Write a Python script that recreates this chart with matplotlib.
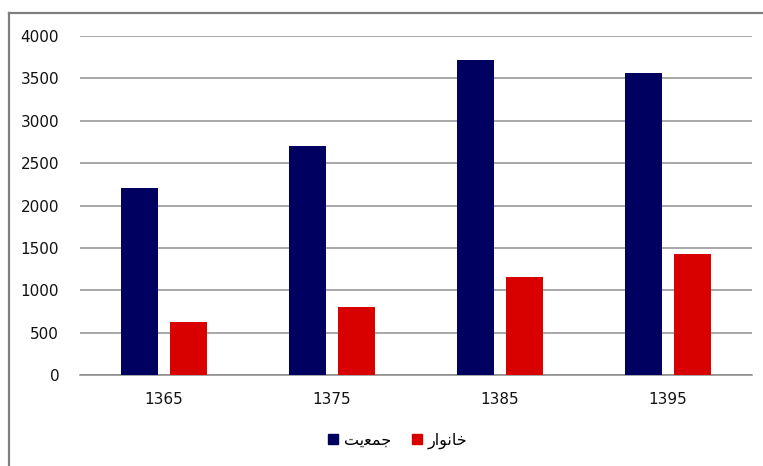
import matplotlib
matplotlib.use("Agg")
import matplotlib.pyplot as plt
from matplotlib.lines import Line2D
from matplotlib.patches import Patch
import numpy as np

years = ["1365", "1375", "1385", "1395"]
population = [2210, 2705, 3720, 3560]
households = [630, 800, 1160, 1425]

# Arabic-script labels written in presentation forms (visual order) since
# matplotlib does no shaping / bidi on its own
label_population = "\uFE96\uFBFE\uFECC\uFEE4\uFE9F"   # جمعیت
label_households = "\uFEAD\uFE8D\uFEEE\uFEE7\uFE8E\uFEA7"  # خانوار

navy = "#000060"
red = "#d90000"

plt.rcParams["font.family"] = ["DejaVu Sans"]

fig = plt.figure(figsize=(7.63, 4.66), dpi=100)
ax = fig.add_axes([80 / 763, 1 - 375 / 466, 672 / 763, 339 / 466])

x = np.arange(len(years))
w = 0.223
off = 0.145
ax.bar(x - off, population, width=w, color=navy, zorder=3)
ax.bar(x + off, households, width=w, color=red, zorder=3)

ax.set_xlim(-0.5, len(years) - 0.5)
ax.set_ylim(0, 4000)
ax.set_yticks(range(0, 4001, 500))
ax.set_xticks(x)
ax.set_xticklabels(years)
ax.yaxis.grid(True, color="#909090", linewidth=1.1, zorder=0)
ax.set_axisbelow(True)
for s in ["top", "right", "left"]:
    ax.spines[s].set_visible(False)
ax.spines["bottom"].set_color("#8a8a8a")
ax.spines["bottom"].set_linewidth(1.1)
ax.tick_params(axis="both", length=0, labelsize=11, colors="#111111")
ax.tick_params(axis="y", pad=15)
ax.tick_params(axis="x", pad=12)

handles = [Patch(color=navy), Patch(color=red)]
fig.legend(handles, [label_population, label_households], loc="center",
           bbox_to_anchor=(398 / 763, 1 - 441 / 466), ncol=2, frameon=False,
           handlelength=0.6, handleheight=0.6, handletextpad=0.4,
           columnspacing=1.3, fontsize=11.5)

# outer chart frame (left and top edges visible in the original)
fig.add_artist(Line2D([8.5 / 763, 8.5 / 763], [0, 1 - 13 / 466],
                      transform=fig.transFigure, color="#808080", linewidth=1.6))
fig.add_artist(Line2D([8.5 / 763, 1], [1 - 13 / 466, 1 - 13 / 466],
                      transform=fig.transFigure, color="#808080", linewidth=1.6))

fig.savefig("out.png", dpi=100)
